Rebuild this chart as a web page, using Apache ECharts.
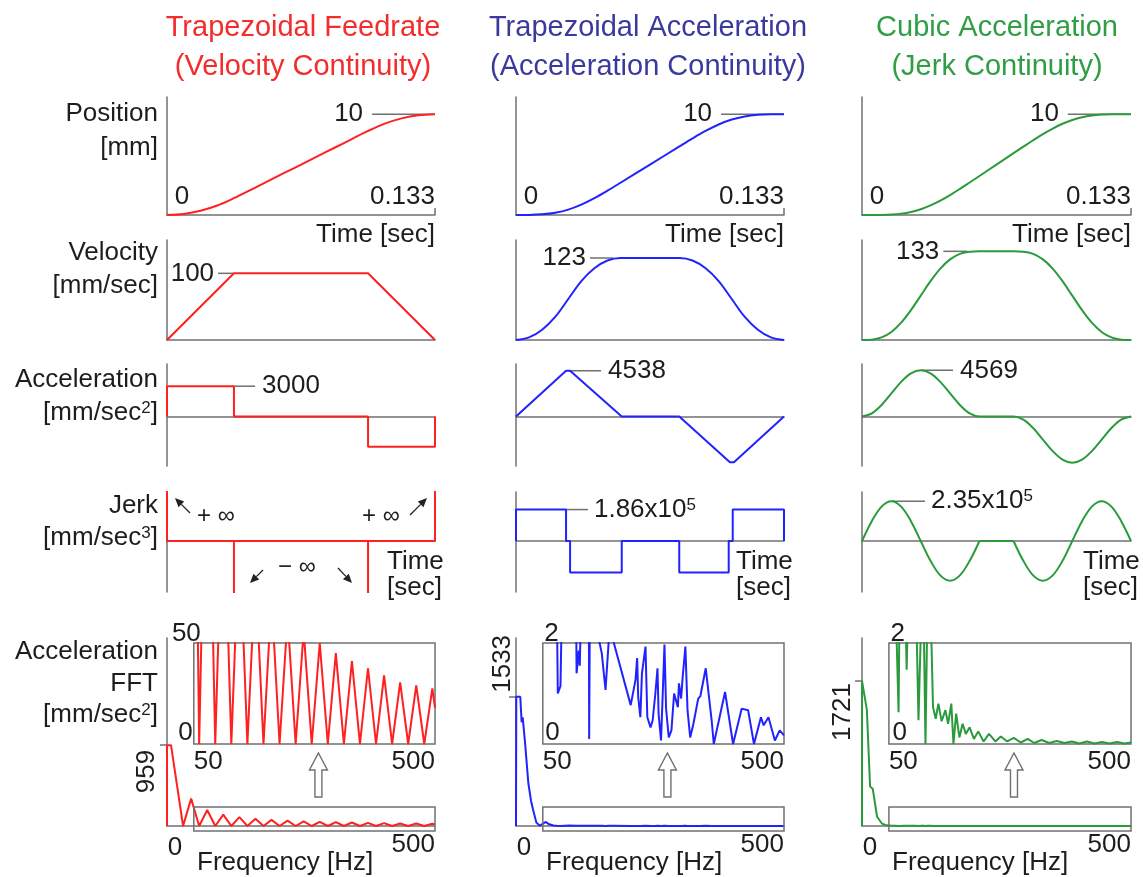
<!DOCTYPE html>
<html>
<head>
<meta charset="utf-8">
<title>Motion profiles</title>
<script src="https://cdn.jsdelivr.net/npm/echarts@6/dist/echarts.min.js"></script>
<style>
  html, body { margin: 0; padding: 0; background: #fff; }
  #chart { width: 1143px; height: 877px; }
</style>
</head>
<body>
<div id="chart"></div>
<script>
// Shared spans
const T_END = 0.1333;   // move time [sec]
const F_MAX = 500;      // FFT span [Hz]
const INF = 1e9;        // impulse height, clipped at the frame edge

// ---------- Trapezoidal feedrate (velocity continuity) ----------
const feedPosT = [0, 0.00833, 0.01667, 0.025, 0.0333, 0.0417, 0.05, 0.0583, 0.0667, 0.075, 0.0833, 0.0917,
                  0.1, 0.10833, 0.11667, 0.125, 0.1333];
const feedPos  = [0, 0.104, 0.417, 0.9375, 1.667, 2.5, 3.333, 4.167, 5.0, 5.833, 6.667, 7.5,
                  8.333, 9.0625, 9.583, 9.896, 10];
const feedVelT = [0, 0.0333, 0.1, 0.1333];
const feedVel  = [0, 100, 100, 0];
const feedAccT = [0, 0, 0.0333, 0.0333, 0.1, 0.1, 0.1333, 0.1333];
const feedAcc  = [0, 3000, 3000, 0, 0, -3000, -3000, 0];
const feedJerkT = [0, 0, 0.0333, 0.0333, 0.0333, 0.1, 0.1, 0.1, 0.1333, 0.1333];
const feedJerk  = [INF, 0, 0, -INF, 0, 0, -INF, 0, 0, INF];
const feedFftF = [0, 0, 7.5, 30, 45, 60, 75, 90, 105, 120, 135, 150, 165, 180, 195, 210, 225, 240, 255, 270,
                  285, 300, 315, 330, 345, 360, 375, 390, 405, 420, 435, 450, 465, 480, 495, 500];
const feedFftA = [0, 959, 959, 0, 325, 0, 190, 0, 135, 0, 105, 0, 86, 0, 73, 0, 63, 0, 56, 0,
                  50, 0, 45, 0, 41, 0, 37.5, 0, 34, 0, 30.5, 0, 29, 0, 27.5, 18];

// ---------- Trapezoidal acceleration (acceleration continuity) ----------
const taccT   = [0, 0.0065, 0.013, 0.0195, 0.026, 0.0325, 0.039, 0.0455, 0.052, 0.06665, 0.0813,
                 0.0878, 0.0943, 0.1008, 0.1073, 0.1138, 0.1203, 0.1268, 0.1333];
const taccPos = [0, 0.0083, 0.0666, 0.2249, 0.533, 1.024, 1.666, 2.407, 3.198, 5.0, 6.802,
                 7.593, 8.334, 8.976, 9.467, 9.775, 9.933, 9.992, 10];
const taccVel = [0, 3.84, 15.4, 34.6, 61.5, 88.4, 107.6, 119.2, 123, 123, 123,
                 119.2, 107.6, 88.4, 61.5, 34.6, 15.4, 3.84, 0];
const taccAccT = [0, 0.0249, 0.0269, 0.0526, 0.0812, 0.1064, 0.1084, 0.1333];
const taccAcc  = [0, 4538, 4538, 0, 0, -4538, -4538, 0];
const taccJerkT = [0, 0, 0.0249, 0.0249, 0.0269, 0.0269, 0.0526, 0.0526, 0.0812, 0.0812,
                   0.1058, 0.1058, 0.1078, 0.1078, 0.1333, 0.1333];
const taccJerk  = [0, 1.86e5, 1.86e5, 0, 0, -1.86e5, -1.86e5, 0, 0, -1.86e5,
                   -1.86e5, 0, 0, 1.86e5, 1.86e5, 0];
const taccFftF = [0, 0.5, 8, 10.5, 12.5, 17, 23, 28, 32, 38, 44, 50, 55, 62, 70, 76, 78, 83, 86, 100,
                  112, 113, 117, 119, 122, 136, 136.5, 138, 150, 160, 167, 174, 180, 214, 223, 226, 228, 232,
                  235, 241.6, 245, 251, 255, 260, 264, 266, 270.6, 274, 277, 280, 285, 290, 295, 302, 304,
                  308, 311, 316, 320, 325, 331, 340, 344, 354, 365, 369, 390, 405, 421, 433, 444, 457, 462,
                  471, 483, 492, 500];
const taccFftA = [0, 1533, 1533, 1230, 1290, 980, 510, 300, 190, 40, 5, 25, 48, 20, 5, 3, 1.0, 1.15, 3, 5,
                  3, 1.4, 1.85, 1.55, 3, 2.5, 0.1, 3, 2.3, 1.8, 1.07, 2.2, 2.1, 0.77, 1.27, 1.7, 0.93, 0.53,
                  1.4, 1.93, 0.53, 0.33, 0.47, 1.0, 1.5, 0.6, 0.07, 1.07, 1.97, 0.7, 0.13, 0.27, 1.0, 0.73, 1.2,
                  0.9, 1.33, 1.93, 0.67, 0.13, 0.4, 0.9, 0.95, 1.5, 0.47, 0, 1.03, 0, 0.7, 0.67, 0, 0.53, 0.37,
                  0.53, 0.07, 0.27, 0.17];

// ---------- Cubic acceleration (jerk continuity) ----------
const cubT   = [0, 0.00485, 0.0097, 0.01455, 0.0194, 0.02425, 0.0291, 0.03395, 0.0388, 0.04365, 0.0485, 0.05335,
                0.0582, 0.06665, 0.0751, 0.07995, 0.0848, 0.08965, 0.0945, 0.09935, 0.1042, 0.10905, 0.1139,
                0.11875, 0.1236, 0.12845, 0.1333];
const cubPos = [0, 0.0006, 0.0095, 0.0458, 0.136, 0.306, 0.575, 0.951, 1.426, 1.981, 2.59, 3.226,
                3.87, 5.0, 6.13, 6.774, 7.41, 8.019, 8.574, 9.049, 9.425, 9.694, 9.864,
                9.954, 9.9905, 9.9994, 10];
const cubVel = [0, 0.49, 3.84, 12.08, 26.0, 44.8, 66.5, 88.2, 107.0, 120.9, 129.2, 132.5,
                133, 133, 133, 132.5, 129.2, 120.9, 107.0, 88.2, 66.5, 44.8, 26.0,
                12.08, 3.84, 0.49, 0];
const cubAcc = [0, 306, 1142, 2285, 3427, 4263, 4569, 4263, 3427, 2285, 1142, 306,
                0, 0, 0, -306, -1142, -2285, -3427, -4263, -4569, -4263, -3427,
                -2285, -1142, -306, 0];
// jerk: two sine periods joined by a rest; null entries split the smoothed pieces
const cubJerkT = [0, 0.00485, 0.0097, 0.01455, 0.0194, 0.02425, 0.0291, 0.03395, 0.0388, 0.04365, 0.0485, 0.05335, 0.0582,
                  0.0582, 0.0582, 0.0751, 0.0751,
                  0.0751, 0.07995, 0.0848, 0.08965, 0.0945, 0.09935, 0.1042, 0.10905, 0.1139, 0.11875, 0.1236, 0.12845, 0.1333];
const cubJerk  = [0, 1.175e5, 2.035e5, 2.35e5, 2.035e5, 1.175e5, 0, -1.175e5, -2.035e5, -2.35e5, -2.035e5, -1.175e5, 0,
                  null, 0, 0, null,
                  0, -1.175e5, -2.035e5, -2.35e5, -2.035e5, -1.175e5, 0, 1.175e5, 2.035e5, 2.35e5, 2.035e5, 1.175e5, 0];
const cubFftF = [0, 0, 3, 9, 15, 20, 28, 37, 45, 55, 62, 68, 70, 80, 83, 86, 100, 105, 110, 114, 118, 122, 128,
                 132, 137, 142, 148, 155, 160, 166, 170, 175, 181, 187, 193, 200, 208, 216, 226, 236, 248, 258,
                 270, 282, 295, 308, 320, 334, 348, 362, 376, 390, 404, 418, 432, 446, 460, 474, 488, 500];
const cubFftA = [0, 1721, 1721, 1380, 470, 440, 110, 30, 8, 4, 3, 0.63, 3, 3, 1.47, 3, 3, 0.47, 2.5, 3, 0, 3, 2.5,
                 0.73, 0.5, 0.8, 0.45, 0.67, 0.4, 0.8, 0, 0.6, 0.13, 0.4, 0.2, 0.33, 0.1, 0.25, 0.05, 0.2, 0.05, 0.15,
                 0.05, 0.12, 0.03, 0.1, 0.02, 0.08, 0.02, 0.06, 0.02, 0.05, 0.01, 0.05, 0.01, 0.04, 0.01, 0.04, 0.01, 0.03];

// Axis annotation values
const fftPeaks = [959, 1533, 1721];
const insetTop = [50, 2, 2];

// ---------- layout ----------
const FONT = '"Liberation Sans", Arial, Helvetica, sans-serif';
const INK = '#1d1d1d';
const AXIS = '#707070';

const ROWS = [
  { key: 'pos',  top: 97,  h: 118, min: 0,       max: 11.7 },
  { key: 'vel',  top: 240, h: 100, min: 0,       max: 150 },
  { key: 'acc',  top: 364, h: 102, min: -4900,   max: 5200 },
  { key: 'jerk', top: 492, h: 100, min: -3.02e5, max: 2.9e5 },
  { key: 'fft',  top: 638, h: 188, min: 0,       max: 2230 }
];
const INSET = { top: 643, h: 101, fromHz: 50 };

const COLS = [
  { x: 167, w: 268, line: '#ff2020', head: '#f32c2c', cx: 303,
    title: ['Trapezoidal Feedrate', '(Velocity Continuity)'],
    data: { pos: [feedPosT, feedPos], vel: [feedVelT, feedVel], acc: [feedAccT, feedAcc],
            jerk: [feedJerkT, feedJerk], fft: [feedFftF, feedFftA] },
    smooth: { pos: true } },
  { x: 516, w: 268, line: '#2222ff', head: '#3a3a9e', cx: 648,
    title: ['Trapezoidal Acceleration', '(Acceleration Continuity)'],
    data: { pos: [taccT, taccPos], vel: [taccT, taccVel], acc: [taccAccT, taccAcc],
            jerk: [taccJerkT, taccJerk], fft: [taccFftF, taccFftA] },
    smooth: { pos: true, vel: true } },
  { x: 862, w: 269, line: '#2b9a3c', head: '#2f9e45', cx: 997,
    title: ['Cubic Acceleration', '(Jerk Continuity)'],
    data: { pos: [cubT, cubPos], vel: [cubT, cubVel], acc: [cubT, cubAcc],
            jerk: [cubJerkT, cubJerk], fft: [cubFftF, cubFftA] },
    smooth: { pos: true, vel: true, acc: true, jerk: true } }
];

const pts = (t, v) => t.map((x, i) => [x, v[i] === null ? null : v[i]]);
const axisLine = { show: true, onZero: true, lineStyle: { color: AXIS, width: 1.5 } };
const off = { show: false };

const grids = [], xAxes = [], yAxes = [], series = [];
COLS.forEach((col, c) => {
  ROWS.forEach(row => {
    const gi = grids.length;
    const isFft = row.key === 'fft';
    grids.push({ left: col.x, top: row.top, width: col.w, height: row.h, containLabel: false, outerBoundsMode: 'none' });
    xAxes.push({
      type: 'value', gridIndex: gi, min: 0, max: isFft ? F_MAX : T_END,
      axisLine,
      axisTick: row.key === 'pos'
        ? { show: true, inside: true, length: 7, customValues: [T_END], lineStyle: { color: AXIS, width: 1.5 } }
        : off,
      axisLabel: off, splitLine: off
    });
    yAxes.push({
      type: 'value', gridIndex: gi, min: row.min, max: row.max,
      axisLine: { show: true, onZero: false, lineStyle: { color: AXIS, width: 1.5 } },
      axisTick: isFft
        ? { show: true, inside: false, length: 7, customValues: [fftPeaks[c]], lineStyle: { color: AXIS, width: 1.5 } }
        : off,
      axisLabel: off, splitLine: off
    });
    const [t, v] = col.data[row.key];
    series.push({
      type: 'line', xAxisIndex: gi, yAxisIndex: gi, data: pts(t, v),
      showSymbol: false, symbol: 'none', smooth: col.smooth[row.key] ? 0.35 : false,
      connectNulls: false, clip: true, silent: true, z: 3,
      lineStyle: { color: col.line, width: 2 }, itemStyle: { color: col.line }
    });
  });
  // magnified view of the 50–500 Hz band
  const gi = grids.length;
  const x50 = col.x + col.w * INSET.fromHz / F_MAX;
  grids.push({ left: x50, top: INSET.top, width: col.x + col.w - x50, height: INSET.h, show: true,
               borderColor: AXIS, borderWidth: 1.5, backgroundColor: 'rgba(0,0,0,0)',
               containLabel: false, outerBoundsMode: 'none' });
  xAxes.push({ type: 'value', gridIndex: gi, min: INSET.fromHz, max: F_MAX, axisLine: off, axisTick: off, axisLabel: off, splitLine: off });
  yAxes.push({ type: 'value', gridIndex: gi, min: 0, max: insetTop[c], axisLine: off, axisTick: off, axisLabel: off, splitLine: off });
  series.push({
    type: 'line', xAxisIndex: gi, yAxisIndex: gi, data: pts(col.data.fft[0], col.data.fft[1]),
    showSymbol: false, symbol: 'none', clip: true, silent: true, z: 3,
    lineStyle: { color: col.line, width: 2 }, itemStyle: { color: col.line }
  });
});

const chart = echarts.init(document.getElementById('chart'), null, { renderer: 'canvas' });
chart.setOption({
  backgroundColor: '#ffffff',
  animation: false,
  grid: grids, xAxis: xAxes, yAxis: yAxes, series
});

// ---------- annotations ----------
const G = (c, r) => c * 6 + r;          // grid index (r = 5 is the inset)
const P = (gi, x, y) => chart.convertToPixel({ gridIndex: gi }, [x, y]);
const RICH = { sup: { font: '17px ' + FONT, fontSize: 17, fontFamily: FONT, fill: INK, verticalAlign: 'top' } };
const gfx = [];
function txt(x, y, text, o = {}) {
  gfx.push({
    type: 'text', x, y, rotation: o.rot || 0, silent: true, z: 20,
    style: {
      text, fill: o.fill || INK, font: (o.size || 26) + 'px ' + FONT,
      textAlign: o.align || 'left', textVerticalAlign: o.va || 'middle',
      align: o.align || 'left', verticalAlign: o.va || 'middle', rich: RICH
    }
  });
}
function seg(x1, y1, x2, y2, o = {}) {
  gfx.push({ type: 'line', silent: true, z: o.z || 20, shape: { x1, y1, x2, y2 },
             style: { stroke: o.stroke || AXIS, lineWidth: o.w || 1.5 } });
}
function arrow(x1, y1, x2, y2) {
  const a = Math.atan2(y2 - y1, x2 - x1), L = 9, W = 4;
  const bx = x2 - L * Math.cos(a), by = y2 - L * Math.sin(a);
  seg(x1, y1, bx, by, { stroke: '#222', w: 1.3 });
  gfx.push({ type: 'polygon', silent: true, z: 20,
    shape: { points: [[x2, y2], [bx + W * Math.sin(a), by - W * Math.cos(a)], [bx - W * Math.sin(a), by + W * Math.cos(a)]] },
    style: { fill: '#222' } });
}

// row captions
txt(158, 114, 'Position', { align: 'right' });
txt(158, 148, '[mm]', { align: 'right' });
txt(158, 253, 'Velocity', { align: 'right' });
txt(158, 286, '[mm/sec]', { align: 'right' });
txt(158, 380, 'Acceleration', { align: 'right' });
txt(158, 413, '[mm/sec{sup|2}]', { align: 'right' });
txt(158, 506, 'Jerk', { align: 'right' });
txt(158, 538, '[mm/sec{sup|3}]', { align: 'right' });
txt(158, 652, 'Acceleration', { align: 'right' });
txt(158, 684, 'FFT', { align: 'right' });
txt(158, 715, '[mm/sec{sup|2}]', { align: 'right' });

// per-column value callouts
const CALL = [
  { vel: ['100', 100, 0.0254, 0.0333], acc: ['3000', 3000, 0.0333, 0.0438], jerk: null,
    peakDx: -20, peakDy: 48, inTopDx: 7, inZeroDx: -1 },
  { vel: ['123', 123, 0.0368, 0.0483], acc: ['4538', 4538, 0.0262, 0.0423], jerk: ['1.86x10{sup|5}', 1.86e5, 0.0249, 0.0358],
    peakDx: -13, peakDy: -4, inTopDx: 16, inZeroDx: 17 },
  { vel: ['133', 133, 0.0403, 0.0522], acc: ['4569', 4569, 0.0295, 0.0451], jerk: ['2.35x10{sup|5}', 2.35e5, 0.0149, 0.0312],
    peakDx: -19, peakDy: 60, inTopDx: 16, inZeroDx: 18 }
];

COLS.forEach((col, c) => {
  const k = CALL[c];
  const right = col.x + col.w;
  // titles
  txt(col.cx, 28, col.title[0], { align: 'center', size: 29, fill: col.head });
  txt(col.cx, 67, col.title[1], { align: 'center', size: 29, fill: col.head });

  // position
  let [ax, ay] = P(G(c, 0), 0.102, 10);
  let [bx] = P(G(c, 0), T_END, 10);
  seg(ax, ay, bx, ay, { z: 1 });
  txt(ax - 9, ay, '10', { align: 'right' });
  const [ox, oy] = P(G(c, 0), 0, 0);
  txt(ox + 15, oy - 18, '0', { align: 'center' });
  txt(right, oy - 18, '0.133', { align: 'right' });
  txt(right, oy + 20, 'Time [sec]', { align: 'right' });

  // velocity
  [ax, ay] = P(G(c, 1), k.vel[2], k.vel[1]);
  [bx] = P(G(c, 1), k.vel[3], k.vel[1]);
  seg(ax, ay, bx, ay, { z: 1 });
  txt(ax - 4, ay, k.vel[0], { align: 'right' });

  // acceleration
  [ax, ay] = P(G(c, 2), k.acc[2], k.acc[1]);
  [bx] = P(G(c, 2), k.acc[3], k.acc[1]);
  seg(ax, ay, bx, ay, { z: 1 });
  txt(bx + 7, ay, k.acc[0]);

  // jerk
  const [jx, jy] = P(G(c, 3), 0, 0);
  if (k.jerk) {
    [ax, ay] = P(G(c, 3), k.jerk[2], k.jerk[1]);
    [bx] = P(G(c, 3), k.jerk[3], k.jerk[1]);
    seg(ax, ay, bx, ay, { z: 1 });
    txt(bx + 6, ay, k.jerk[0]);
  } else {
    arrow(jx + 23, jy - 28, jx + 8, jy - 43);
    txt(jx + 30, jy - 25, '+ ∞', { size: 24 });
    txt(jx + 195, jy - 25, '+ ∞', { size: 24 });
    arrow(jx + 243, jy - 26, jx + 260, jy - 43);
    arrow(jx + 96, jy + 29, jx + 83, jy + 42);
    txt(jx + 111, jy + 26, '− ∞', { size: 24 });
    arrow(jx + 171, jy + 27, jx + 185, jy + 42);
  }
  txt(right - 48, jy + 21, 'Time');
  txt(right - 48, jy + 47, '[sec]');

  // FFT main view
  const [fx, fy] = P(G(c, 4), 0, 0);
  const [, py] = P(G(c, 4), 0, fftPeaks[c]);
  txt(fx + k.peakDx, py + k.peakDy, String(fftPeaks[c]), { rot: Math.PI / 2, align: 'left' });
  txt(fx + 8, fy + 22, '0', { align: 'center' });
  txt(right, fy + 19, '500', { align: 'right' });
  txt(fx + 30, fy + 37, 'Frequency [Hz]');
  const [r1x, r1y] = P(G(c, 4), INSET.fromHz, 225);
  const [r2x, r2y] = P(G(c, 4), F_MAX, -60);
  gfx.push({ type: 'rect', silent: true, z: 15, shape: { x: r1x, y: r1y, width: r2x - r1x, height: r2y - r1y },
             style: { fill: 'none', stroke: AXIS, lineWidth: 1.5 } });

  // inset labels
  const [ix0, iy0] = P(G(c, 5), INSET.fromHz, 0);
  const [ix1, iy1] = P(G(c, 5), F_MAX, insetTop[c]);
  txt(ix0 + k.inTopDx, iy1 - 9, String(insetTop[c]), { align: 'right' });
  txt(ix0 + k.inZeroDx, iy0 - 11, '0', { align: 'right' });
  txt(ix0, iy0 + 18, '50');
  txt(ix1, iy0 + 18, '500', { align: 'right' });

  // hollow arrow pointing from the band box to the magnified view
  const ac = col.x + col.w * 0.565;
  gfx.push({ type: 'polygon', silent: true, z: 15,
    shape: { points: [[ac - 3.5, 797], [ac - 3.5, 770], [ac - 9, 770], [ac, 753], [ac + 9, 770], [ac + 3.5, 770], [ac + 3.5, 797]] },
    style: { fill: '#fff', stroke: AXIS, lineWidth: 1.4 } });
});

chart.setOption({ graphic: { elements: gfx } });
</script>
</body>
</html>
